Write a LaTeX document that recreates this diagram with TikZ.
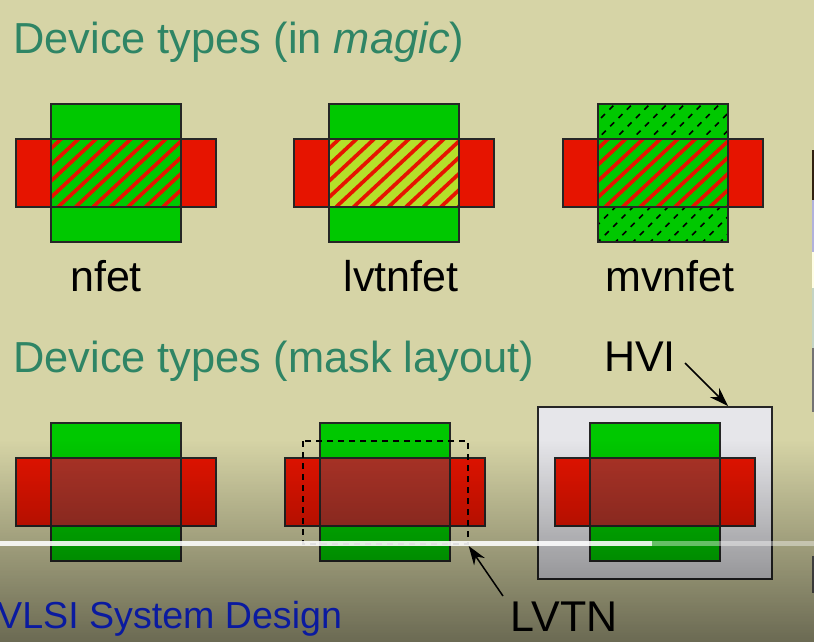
\documentclass[tikz,border=0pt]{standalone}
\usepackage{fontspec}
\setmainfont{Liberation Sans}
\usetikzlibrary{fadings,arrows.meta}
\definecolor{bgc}{HTML}{D6D4A6}
\definecolor{gatec}{HTML}{00C800}
\definecolor{polyc}{HTML}{E61400}
\definecolor{titlec}{HTML}{2F8565}
\definecolor{bluec}{HTML}{0A1AA0}
\definecolor{overlapc}{HTML}{AE3428}
\definecolor{lvtc}{HTML}{B4E02A}
\definecolor{hvic}{HTML}{E6E6EA}
\tikzfading[name=fadedown,top color=transparent!100,bottom color=transparent!50]
\tikzset{
  layerbox/.style={draw=black!85,line width=1.3pt},
  titletext/.style={text=titlec,font=\fontsize{43.4}{48}\selectfont,anchor=base west,inner sep=0pt},
  labeltext/.style={text=black,font=\fontsize{43}{48}\selectfont,anchor=base,inner sep=0pt},
  hatchline/.style={polyc,line width=3.7pt},
  dashhatch/.style={black,line width=1.6pt,dash pattern=on 5.6pt off 6.2pt},
  pointer/.style={black,line width=1.5pt,-{Stealth[length=19pt,width=13pt]}},
  maskdash/.style={black,line width=1.3pt,dash pattern=on 6pt off 5pt}
}
\newcommand{\magicdev}[3]{% left x of diffusion, channel colour, extra
  \begin{scope}[shift={(#1,0)}]
    \fill[polyc] (-35,139) rectangle (165,207);
    \fill[#2] (0,139) rectangle (130,207);
    \begin{scope}
      \clip (0,139) rectangle (130,207);
      \foreach \i in {-1,...,12} {
        \draw[hatchline] ({12.3+17.45*\i},137) -- ++(-75,70);
      }
    \end{scope}
    \fill[gatec] (0,104) rectangle (130,139);
    \fill[gatec] (0,207) rectangle (130,242);
    #3
    \draw[layerbox] (-35,139) rectangle (165,207);
    \draw[layerbox] (0,104) rectangle (130,242);
    \draw[layerbox] (0,139) -- (130,139) (0,207) -- (130,207);
  \end{scope}}
\newcommand{\maskdev}[2]{% diff left x, top y
  \begin{scope}[shift={(#1,#2)}]
    \fill[gatec] (0,0) rectangle (130,138);
    \fill[polyc] (-35,35) rectangle (165,103);
    \fill[overlapc] (0,35) rectangle (130,103);
    \draw[layerbox] (-35,35) rectangle (165,103);
    \draw[layerbox] (0,0) rectangle (130,138);
  \end{scope}}
\begin{document}
\begin{tikzpicture}[x=1pt,y=-1pt]
\useasboundingbox (0,0) rectangle (814,642);
\fill[bgc] (0,0) rectangle (814,642);
% right edge sliver
\fill[black!75!brown] (812,150) rectangle (814,200);
\fill[black!45!blue!30!white] (812,200) rectangle (814,252);
\fill[yellow!10!white] (812,252) rectangle (814,288);
\fill[green!15!gray!40!white] (812,288) rectangle (814,348);
\fill[black!55] (812,348) rectangle (814,412);
\fill[black!65] (812,556) rectangle (814,593);

\node[titletext] (t1) at (13,54) {Device types (in \textit{magic})};
\node[titletext] (t2) at (13,372) {Device types (mask layout)};

\magicdev{51}{gatec}{}
\magicdev{329}{lvtc}{}
\magicdev{598}{gatec}{%
  \begin{scope}
    \clip (0,104) rectangle (130,139);
    \foreach \i in {-1,...,9} {
      \draw[dashhatch] ({15.3-37.3+17.45*\i},143.0) -- ++(45,-45);
    }
  \end{scope}
  \begin{scope}
    \clip (0,207) rectangle (130,242);
    \foreach \i in {-1,...,10} {
      \draw[dashhatch] ({1.3-2.8+17.45*\i},243.5) -- ++(45,-45);
    }
  \end{scope}}

\node[labeltext] (n1) at (106,291) {nfet};
\node[labeltext] (n2) at (401,291) {lvtnfet};
\node[labeltext] (n3) at (670,291) {mvnfet};

% mask layout
\maskdev{51}{423}
\maskdev{320}{423}
\draw[maskdash] (303,441) rectangle (468,544);
\coordinate (lvtnc) at (468.7,546);
\coordinate (lvtnt) at (503,596);
\draw[pointer] (lvtnt) -- (lvtnc);

\draw[layerbox,fill=hvic] (538,407) rectangle (772,579);
\maskdev{590}{423}
\node[labeltext] (hvi) at (640,371) {HVI};
\coordinate (hvic1) at (728,406);
\coordinate (hvit) at (685,363);
\draw[pointer] (hvit) -- (hvic1);

% darkening toward the bottom
\fill[black,path fading=fadedown] (0,440) rectangle (814,642);

% playback bar
\fill[white,opacity=.88] (0,541) rectangle (652,546);
\fill[white,opacity=.4] (652,541) rectangle (814,546);

\node[labeltext] (lvtn) at (564,631) {LVTN};
\node[text=bluec,font=\fontsize{37.6}{42}\selectfont,anchor=base west,inner sep=0pt] (brand) at (-3,628) {VLSI System Design};
\end{tikzpicture}
\end{document}
